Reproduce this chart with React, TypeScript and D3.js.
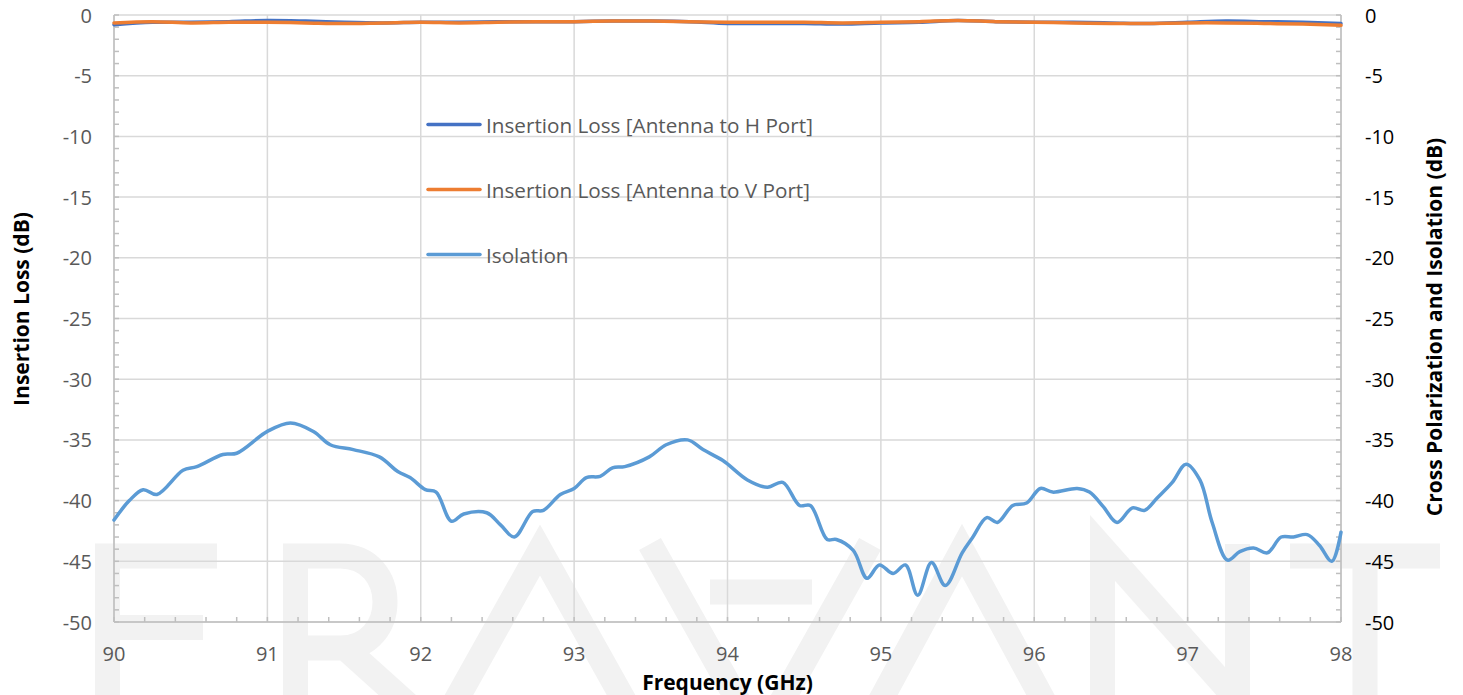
import React from "react";
import * as d3 from "d3";

// ---------- data ----------
const ilFreq = [90, 90.25, 90.5, 90.75, 91, 91.25, 91.5, 91.75, 92, 92.25, 92.5, 92.75, 93, 93.25, 93.5, 93.75, 94, 94.25, 94.5, 94.75, 95, 95.25, 95.5, 95.75, 96, 96.25, 96.5, 96.75, 97, 97.25, 97.5, 97.75, 98];
const ilH = [-0.8, -0.6, -0.6, -0.55, -0.45, -0.5, -0.6, -0.65, -0.6, -0.6, -0.55, -0.55, -0.55, -0.5, -0.5, -0.55, -0.7, -0.7, -0.7, -0.75, -0.65, -0.6, -0.45, -0.55, -0.6, -0.6, -0.65, -0.7, -0.6, -0.5, -0.55, -0.6, -0.7];
const ilV = [-0.65, -0.55, -0.65, -0.6, -0.6, -0.65, -0.7, -0.65, -0.6, -0.65, -0.6, -0.55, -0.55, -0.5, -0.5, -0.55, -0.6, -0.6, -0.6, -0.65, -0.6, -0.55, -0.45, -0.55, -0.6, -0.65, -0.7, -0.7, -0.65, -0.65, -0.7, -0.75, -0.85];

const isoFreq = [90.0, 90.1, 90.19, 90.28, 90.45, 90.54, 90.71, 90.8, 91.0, 91.15, 91.3, 91.41, 91.56, 91.73, 91.85, 91.93, 92.03, 92.1, 92.2, 92.28, 92.43, 92.52, 92.61, 92.73, 92.8, 92.91, 93.0, 93.08, 93.17, 93.25, 93.33, 93.49, 93.6, 93.74, 93.84, 93.97, 94.13, 94.26, 94.36, 94.47, 94.54, 94.65, 94.71, 94.82, 94.91, 94.99, 95.08, 95.16, 95.24, 95.33, 95.42, 95.53, 95.6, 95.69, 95.76, 95.86, 95.95, 96.04, 96.12, 96.28, 96.36, 96.45, 96.54, 96.64, 96.72, 96.8, 96.9, 96.99, 97.08, 97.16, 97.26, 97.34, 97.43, 97.52, 97.61, 97.69, 97.78, 97.86, 97.94, 98.0];
const isoVal = [-41.6, -40.0, -39.1, -39.5, -37.5, -37.2, -36.2, -36.1, -34.3, -33.6, -34.3, -35.4, -35.8, -36.4, -37.6, -38.1, -39.1, -39.3, -41.7, -41.1, -41.0, -42.0, -43.0, -40.9, -40.8, -39.5, -39.0, -38.1, -38.0, -37.3, -37.2, -36.4, -35.4, -35.0, -35.8, -36.7, -38.3, -38.9, -38.5, -40.4, -40.4, -43.2, -43.2, -44.1, -46.4, -45.3, -46.0, -45.3, -47.8, -45.1, -47.0, -44.3, -43.0, -41.4, -41.8, -40.4, -40.2, -39.0, -39.3, -39.0, -39.3, -40.5, -41.8, -40.6, -40.8, -39.8, -38.5, -37.0, -38.3, -41.8, -44.9, -44.2, -43.9, -44.3, -43.0, -43.0, -42.8, -43.7, -45.0, -42.6];

const xTicks = [90, 91, 92, 93, 94, 95, 96, 97, 98];
const yTicks = [0, -5, -10, -15, -20, -25, -30, -35, -40, -45, -50];

const seriesNames = [
  "Insertion Loss [Antenna to H Port]",
  "Insertion Loss [Antenna to V Port]",
  "Isolation",
];
const seriesColors = ["#4472c4", "#ed7d31", "#5b9bd5"];

// ---------- layout ----------
const W = 1463;
const H = 695;
const L = 114;
const R = 1341;
const T = 15;
const B = 622;

const FONT = "'Open Sans', sans-serif";
const WM = "#f2f2f2";

export default function App() {
  const x = d3.scaleLinear().domain([90, 98]).range([L, R]);
  const y = d3.scaleLinear().domain([-50, 0]).range([B, T]);
  const y2 = d3.scaleLinear().domain([-50, 0]).range([B, T]);

  const line = (fx: number[], vy: number[], sc: d3.ScaleLinear<number, number>) =>
    d3
      .line<number>()
      .x((_, i) => x(fx[i]))
      .y((v) => sc(v))
      .curve(d3.curveCatmullRom.alpha(0.5))(vy) as string;

  const xMinor = d3.range(90, 98.0001, 0.2);
  const yMinor = d3.range(-50, 0.0001, 1);

  const sw = 25;
  const wmTop = 556;

  return (
    <div style={{ position: "absolute", left: 0, top: 0 }}>
      <svg width={W} height={H} style={{ display: "block", background: "#fff" }}>
        {/* watermark */}
        <g fill="none" stroke={WM} strokeWidth={sw} strokeLinejoin="miter" strokeLinecap="butt">
          {/* E */}
          <path d={`M 217 ${wmTop} H 107.5 V 760 H 217 M 107.5 627.5 H 203`} />
          {/* R */}
          <path d={`M 295.5 760 V ${wmTop} H 340 C 400 ${wmTop} 400 648 340 648 H 295.5 M 345 648 L 425 720`} />
          {/* A */}
          <path d={`M 445 720 L 540 ${wmTop - 6} L 635 720`} />
          {/* V with bar */}
          <path d={`M 650 ${wmTop - 12} L 760 740 L 870 ${wmTop - 12}`} />
          <path d={`M 710 592 H 812`} />
          {/* A */}
          <path d={`M 870 720 L 962 ${wmTop - 6} L 1054 720`} />
          {/* N */}
          <path d={`M 1102.5 720 V ${wmTop - 8} L 1237.5 700 V ${wmTop - 12}`} />
          {/* T */}
          <path d={`M 1290 ${wmTop} H 1440 M 1365 ${wmTop} V 720`} />
        </g>

        {/* gridlines */}
        <g stroke="#d9d9d9" strokeWidth={1.5}>
          {yTicks.map((t) => (
            <line key={"gy" + t} x1={L} x2={R} y1={y(t)} y2={y(t)} />
          ))}
          {xTicks.map((t) => (
            <line key={"gx" + t} x1={x(t)} x2={x(t)} y1={T} y2={B} />
          ))}
        </g>

        {/* axes */}
        <g stroke="#bfbfbf" strokeWidth={1.5}>
          <line x1={L} x2={L} y1={T} y2={B} />
          <line x1={R} x2={R} y1={T} y2={B} />
          <line x1={L} x2={R} y1={B} y2={B} />
          {yMinor.map((t) => (
            <line key={"ml" + t} x1={L} x2={L + 5} y1={y(t)} y2={y(t)} />
          ))}
          {yMinor.map((t) => (
            <line key={"mr" + t} x1={R - 5} x2={R} y1={y2(t)} y2={y2(t)} />
          ))}
          {xMinor.map((t) => (
            <line key={"mx" + t} x1={x(t)} x2={x(t)} y1={B - 5} y2={B} />
          ))}
        </g>

        {/* tick labels */}
        <g fontFamily={FONT} fontSize={20} fill="#595959">
          {yTicks.map((t) => (
            <text key={"yl" + t} x={92} y={y(t)} textAnchor="end" dominantBaseline="central">
              {t}
            </text>
          ))}
          {xTicks.map((t) => (
            <text key={"xl" + t} x={x(t)} y={653} textAnchor="middle" dominantBaseline="central">
              {t}
            </text>
          ))}
        </g>
        <g fontFamily={FONT} fontSize={20} fill="#000">
          {yTicks.map((t) => (
            <text key={"yr" + t} x={1365} y={y2(t)} textAnchor="start" dominantBaseline="central">
              {t}
            </text>
          ))}
        </g>

        {/* axis titles */}
        <g fontFamily={FONT} fontSize={21} fontWeight="bold" fill="#000">
          <text x={(L + R) / 2} y={682} textAnchor="middle" dominantBaseline="central">
            Frequency (GHz)
          </text>
          <text transform={`translate(21,${309}) rotate(-90)`} textAnchor="middle" dominantBaseline="central">
            Insertion Loss (dB)
          </text>
          <text transform={`translate(1434,${327}) rotate(-90)`} textAnchor="middle" dominantBaseline="central">
            Cross Polarization and Isolation (dB)
          </text>
        </g>

        {/* series */}
        <g fill="none" strokeWidth={3.5} strokeLinejoin="round" strokeLinecap="round">
          <path d={line(ilFreq, ilH, y)} stroke={seriesColors[0]} />
          <path d={line(ilFreq, ilV, y)} stroke={seriesColors[1]} />
          <path d={line(isoFreq, isoVal, y2)} stroke={seriesColors[2]} />
        </g>

        {/* legend */}
        <g fontFamily={FONT} fontSize={20.7} fill="#595959">
          {seriesNames.map((n, i) => {
            const ly = 124.5 + i * 65;
            return (
              <g key={n}>
                <line x1={428} x2={480} y1={ly} y2={ly} stroke={seriesColors[i]} strokeWidth={3.5} strokeLinecap="round" />
                <text x={486} y={ly} dominantBaseline="central">
                  {n}
                </text>
              </g>
            );
          })}
        </g>
      </svg>
    </div>
  );
}
